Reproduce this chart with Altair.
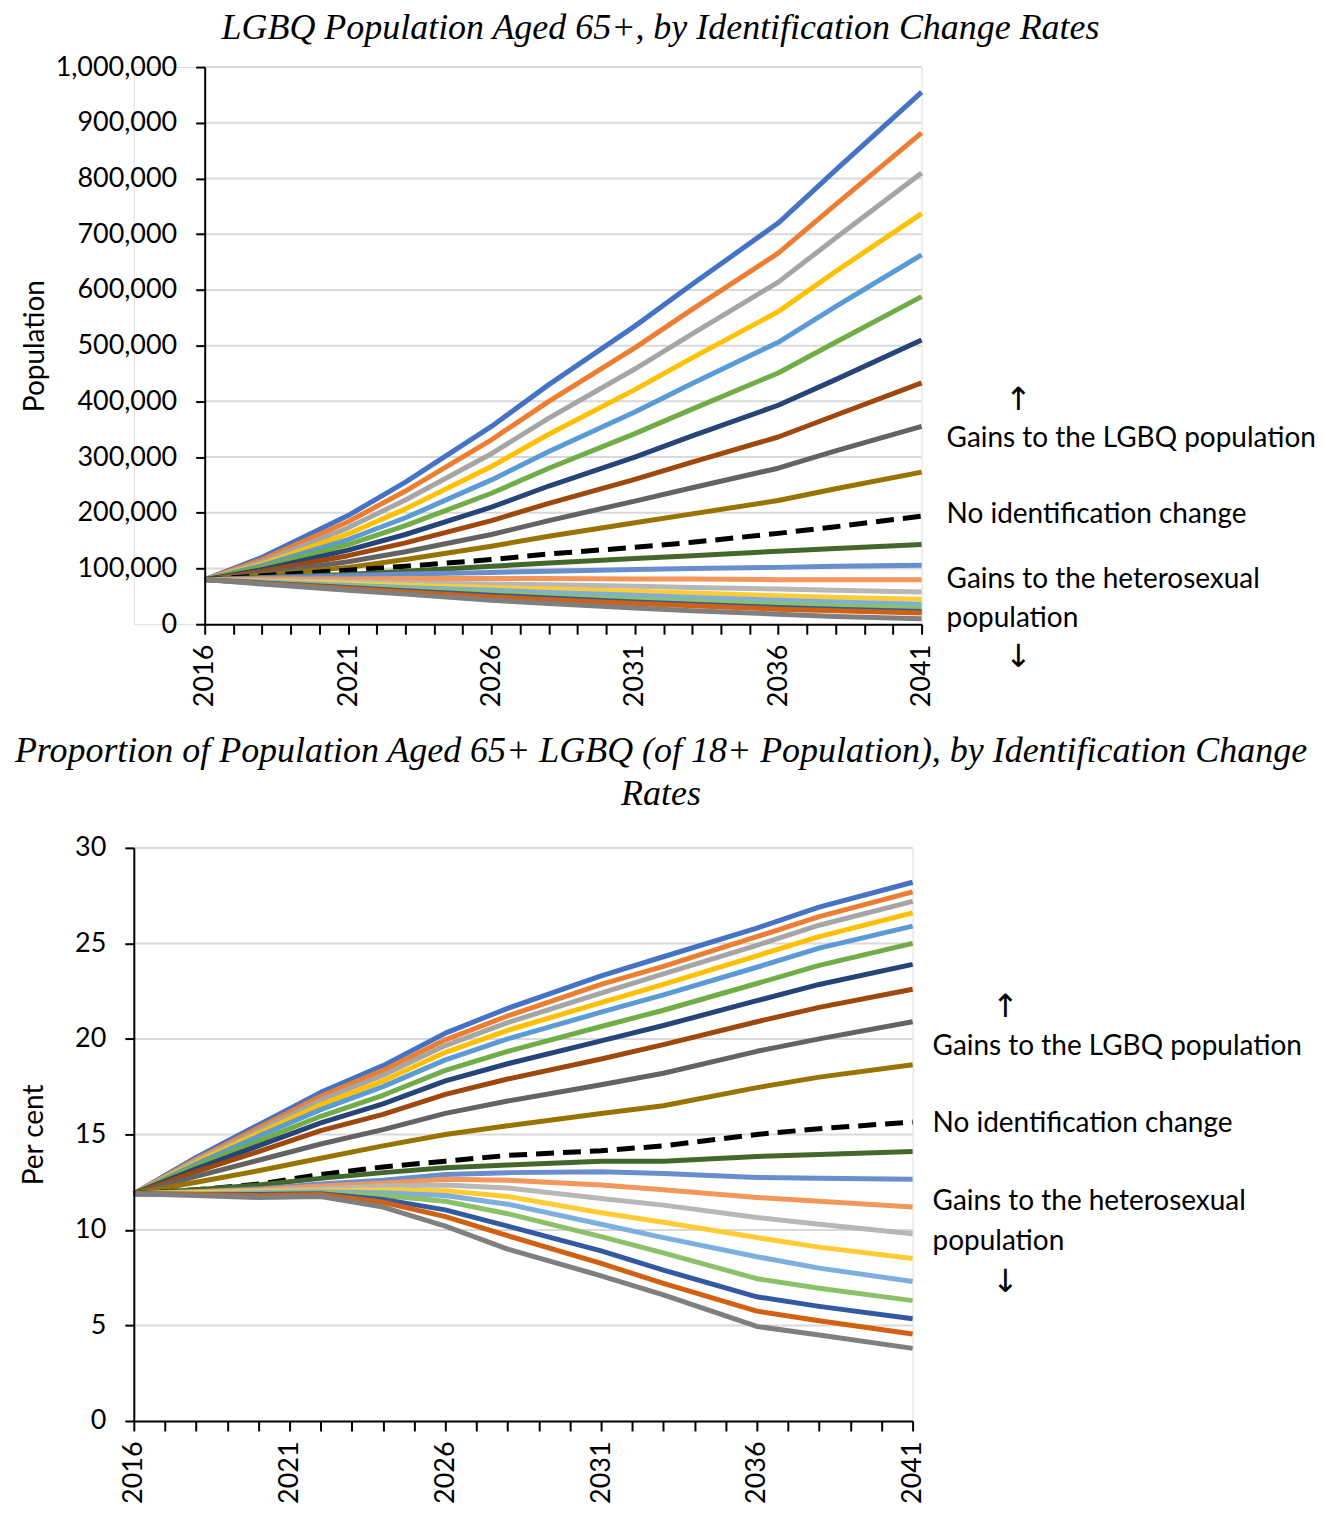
import altair as alt
import pandas as pd

# ---------------- Top panel: LGBQ population aged 65+ (thousands) ----------------
POP_YEARS = [2016, 2018, 2021, 2023, 2026, 2028, 2031, 2033, 2036, 2038, 2041]
POP_L1 = [80, 120, 195, 255, 355, 430, 535, 610, 720, 815, 955]
POP_L2 = [80, 116, 184, 239, 331, 400, 496, 565, 666, 753, 882]
POP_L3 = [80, 112, 173, 223, 306, 370, 458, 521, 614, 693, 810]
POP_L4 = [80, 108, 162, 207, 283, 341, 421, 478, 561, 633, 737]
POP_L5 = [80, 105, 152, 191, 259, 310, 381, 432, 506, 570, 663]
POP_L6 = [80, 102, 143, 177, 235, 280, 342, 386, 451, 506, 588]
POP_L7 = [80, 98, 133, 161, 210, 248, 300, 338, 393, 439, 510]
POP_L8 = [80, 95, 123, 146, 186, 217, 260, 291, 336, 375, 433]
POP_L9 = [80, 91, 112, 130, 161, 186, 221, 245, 280, 311, 355]
POP_L10 = [80, 88, 102, 116, 140, 158, 182, 198, 222, 243, 273]
POP_NC = [80, 87, 97, 104, 116, 126, 138, 147, 163, 175, 194]
POP_H1 = [80, 84, 89, 95, 104, 110, 118, 123, 131, 136, 143]
POP_H2 = [80, 83, 87, 90, 93, 95, 98, 100, 102, 104, 106]
POP_H3 = [80, 81, 81, 82, 82, 82, 81, 81, 80, 80, 80]
POP_H4 = [80, 78, 76, 74, 72, 71, 68, 66, 63, 61, 58]
POP_H5 = [80, 77, 73, 70, 66, 63, 59, 56, 51, 48, 45]
POP_H6 = [80, 76, 70, 66, 61, 57, 52, 48, 43, 40, 36]
POP_H7 = [80, 75, 68, 63, 56, 51, 45, 41, 36, 33, 29]
POP_H8 = [80, 74, 66, 60, 52, 47, 40, 36, 30, 27, 23]
POP_H9 = [80, 73, 64, 58, 49, 44, 37, 33, 27, 24, 20]
POP_H10 = [80, 72, 61, 54, 43, 37, 29, 24, 18, 14, 10]
POP_UNIT = 1000

# ---------------- Bottom panel: per cent LGBQ aged 65+ (of 18+) ----------------
PCT_YEARS = [2016, 2018, 2020, 2022, 2024, 2026, 2028, 2031, 2033, 2036, 2038, 2041]
PCT_L1 = [11.9, 13.8, 15.5, 17.2, 18.6, 20.3, 21.6, 23.3, 24.3, 25.8, 26.9, 28.2]
PCT_L2 = [11.9, 13.7, 15.35, 17.0, 18.35, 19.95, 21.2, 22.85, 23.8, 25.35, 26.4, 27.7]
PCT_L3 = [11.9, 13.65, 15.2, 16.8, 18.1, 19.65, 20.85, 22.4, 23.4, 24.9, 25.95, 27.2]
PCT_L4 = [11.9, 13.55, 15.05, 16.55, 17.8, 19.3, 20.45, 21.9, 22.85, 24.35, 25.35, 26.6]
PCT_L5 = [11.9, 13.45, 14.9, 16.3, 17.5, 18.9, 20.0, 21.4, 22.3, 23.75, 24.75, 25.9]
PCT_L6 = [11.9, 13.35, 14.65, 15.95, 17.05, 18.35, 19.35, 20.65, 21.5, 22.9, 23.85, 25.0]
PCT_L7 = [11.9, 13.2, 14.4, 15.6, 16.6, 17.8, 18.7, 19.9, 20.7, 22.0, 22.85, 23.9]
PCT_L8 = [11.9, 13.05, 14.1, 15.2, 16.05, 17.1, 17.9, 18.95, 19.7, 20.9, 21.65, 22.6]
PCT_L9 = [11.9, 12.8, 13.65, 14.5, 15.25, 16.1, 16.75, 17.6, 18.2, 19.35, 20.0, 20.9]
PCT_L10 = [11.9, 12.5, 13.1, 13.75, 14.4, 15.0, 15.45, 16.1, 16.5, 17.45, 18.0, 18.65]
PCT_NC = [11.9, 12.1, 12.4, 12.9, 13.3, 13.6, 13.9, 14.15, 14.4, 15.0, 15.3, 15.65]
PCT_H1 = [11.9, 12.1, 12.35, 12.7, 13.0, 13.25, 13.4, 13.6, 13.6, 13.85, 13.95, 14.1]
PCT_H2 = [11.9, 12.0, 12.15, 12.4, 12.6, 12.9, 13.0, 13.05, 12.95, 12.75, 12.7, 12.65]
PCT_H3 = [11.9, 12.0, 12.1, 12.3, 12.45, 12.65, 12.6, 12.35, 12.1, 11.7, 11.5, 11.2]
PCT_H4 = [11.9, 11.95, 12.05, 12.15, 12.3, 12.35, 12.2, 11.65, 11.3, 10.65, 10.3, 9.8]
PCT_H5 = [11.9, 11.95, 12.0, 12.05, 12.1, 12.05, 11.75, 10.9, 10.4, 9.6, 9.1, 8.5]
PCT_H6 = [11.9, 11.9, 11.95, 12.0, 11.95, 11.8, 11.35, 10.3, 9.6, 8.6, 8.0, 7.3]
PCT_H7 = [11.9, 11.9, 11.9, 11.95, 11.8, 11.5, 10.85, 9.65, 8.8, 7.45, 6.95, 6.3]
PCT_H8 = [11.9, 11.85, 11.85, 11.9, 11.6, 11.05, 10.2, 8.9, 7.9, 6.5, 6.0, 5.35]
PCT_H9 = [11.9, 11.85, 11.8, 11.85, 11.45, 10.7, 9.7, 8.25, 7.2, 5.75, 5.25, 4.55]
PCT_H10 = [11.9, 11.8, 11.7, 11.75, 11.2, 10.2, 9.0, 7.6, 6.6, 4.95, 4.5, 3.8]

# ---------------- series names / colours ----------------
GAIN_NAMES = ["LGBQ gain %d" % i for i in range(1, 11)]
HET_NAMES = ["Heterosexual gain %d" % i for i in range(1, 11)]
NC_NAME = "No identification change"
GAIN_COLORS = ["#4472C4", "#ED7D31", "#A5A5A5", "#FFC000", "#5B9BD5",
               "#70AD47", "#264478", "#9E480E", "#636363", "#997300"]
HET_COLORS = ["#43682B", "#698ED0", "#F1975A", "#B7B7B7", "#FFCD33",
              "#7CAFDD", "#8CC168", "#335AA1", "#D26012", "#7F7F7F"]

# ---------------- axes ----------------
YEAR_FIRST, YEAR_LAST = 2016, 2041
YEAR_TICKS = list(range(2016, 2042))
YEAR_LABELS = [2016, 2021, 2026, 2031, 2036, 2041]
POP_TICKS = [0, 100000, 200000, 300000, 400000, 500000, 600000, 700000, 800000, 900000, 1000000]
PCT_TICKS = [0, 5, 10, 15, 20, 25, 30]

# ---------------- annotations ----------------
NOTE_TEXT = ["Gains to the LGBQ population", "No identification change",
             "Gains to the heterosexual", "population"]
ARROW_TEXT = ["\u2191", "\u2193"]
POP_NOTE_AT = [333000, 196000, 80000, 10000]
POP_ARROW_AT = [403000, -58000]
PCT_NOTE_AT = [19.6, 15.53, 11.46, 9.37]
PCT_ARROW_AT = [21.65, 7.28]

TITLE_TOP = "LGBQ Population Aged 65+, by Identification Change Rates"
TITLE_BOTTOM = ["Proportion of Population Aged 65+ LGBQ (of 18+ Population), by Identification Change",
                "Rates"]

SANS = "Lato"
SERIF = "Liberation Serif"


def long_table(years, series, scale=1):
    rows = []
    for name, vals in series:
        for yr, v in zip(years, vals):
            rows.append({"series": name, "year": yr, "value": v * scale})
    return pd.DataFrame(rows)


pop_gain = long_table(POP_YEARS, list(zip(GAIN_NAMES, [POP_L1, POP_L2, POP_L3, POP_L4, POP_L5,
                                                       POP_L6, POP_L7, POP_L8, POP_L9, POP_L10])), POP_UNIT)
pop_nc = long_table(POP_YEARS, [(NC_NAME, POP_NC)], POP_UNIT)
pop_het = long_table(POP_YEARS, list(zip(HET_NAMES, [POP_H1, POP_H2, POP_H3, POP_H4, POP_H5,
                                                     POP_H6, POP_H7, POP_H8, POP_H9, POP_H10])), POP_UNIT)
pct_gain = long_table(PCT_YEARS, list(zip(GAIN_NAMES, [PCT_L1, PCT_L2, PCT_L3, PCT_L4, PCT_L5,
                                                       PCT_L6, PCT_L7, PCT_L8, PCT_L9, PCT_L10])))
pct_nc = long_table(PCT_YEARS, [(NC_NAME, PCT_NC)])
pct_het = long_table(PCT_YEARS, list(zip(HET_NAMES, [PCT_H1, PCT_H2, PCT_H3, PCT_H4, PCT_H5,
                                                     PCT_H6, PCT_H7, PCT_H8, PCT_H9, PCT_H10])))

color_scale = alt.Scale(domain=GAIN_NAMES + HET_NAMES, range=GAIN_COLORS + HET_COLORS)
label_expr = "indexof(%s, datum.value) >= 0 ? datum.label : ''" % str(YEAR_LABELS)


def panel(gain_df, nc_df, het_df, y_ticks, y_max, y_fmt, y_title, note_at, arrow_at,
          width, height, x_range, y_offset, title, title_dx, title_offset, title_pad,
          note_dx, arrow_dx, line_height):
    x_scale = alt.Scale(domain=[YEAR_FIRST, YEAR_LAST], range=x_range, nice=False, zero=False)
    y_scale = alt.Scale(domain=[0, y_max], nice=False, zero=False)
    x_axis = alt.Axis(values=YEAR_TICKS, format="d", labelExpr=label_expr,
                      labelAngle=270, labelFont=SANS, labelFontSize=27, labelColor="black",
                      labelPadding=10, labelFlush=False, labelOverlap=False, tickSize=10,
                      tickWidth=2, tickColor="black", domainColor="black", domainWidth=2,
                      grid=False, title=None, zindex=1)
    y_axis = alt.Axis(values=y_ticks, format=y_fmt, labelFont=SANS, labelFontSize=27,
                      labelColor="black", labelPadding=19, tickSize=9, tickWidth=2,
                      tickColor="black", domainColor="black", domainWidth=2, grid=False,
                      title=y_title, titleFont=SANS, titleFontSize=28, titleFontWeight="normal",
                      titleColor="black", titlePadding=title_pad, offset=y_offset, zindex=1)
    x_enc = alt.X("year:Q", scale=x_scale, axis=x_axis)
    y_enc = alt.Y("value:Q", scale=y_scale, axis=y_axis)

    grid_df = pd.DataFrame({"value": [v for v in y_ticks if v > 0]})
    grid_df["year"] = YEAR_FIRST
    grid_df["year_end"] = YEAR_LAST
    grid = alt.Chart(grid_df).mark_rule(color="#D9D9D9", strokeWidth=2).encode(
        y=y_enc, x=x_enc, x2=alt.X2("year_end:Q"))
    gain = alt.Chart(gain_df).mark_line(strokeWidth=5, strokeJoin="round").encode(
        x=x_enc, y=y_enc, color=alt.Color("series:N", scale=color_scale, legend=None))
    het = alt.Chart(het_df).mark_line(strokeWidth=5, strokeJoin="round").encode(
        x=x_enc, y=y_enc, color=alt.Color("series:N", scale=color_scale, legend=None))
    nc = alt.Chart(nc_df).mark_line(color="black", strokeWidth=5, strokeDash=[18, 9]).encode(
        x=x_enc, y=y_enc)

    notes_df = pd.DataFrame({"label": NOTE_TEXT, "value": note_at})
    notes_df["year"] = YEAR_LAST
    arrows_df = pd.DataFrame({"label": ARROW_TEXT, "value": arrow_at})
    arrows_df["year"] = YEAR_LAST
    notes = alt.Chart(notes_df).mark_text(align="left", baseline="middle", dx=note_dx,
                                          font=SANS, fontSize=28, color="black").encode(
        x=x_enc, y=y_enc, text="label:N")
    arrows = alt.Chart(arrows_df).mark_text(align="center", baseline="middle", dx=arrow_dx,
                                            font="DejaVu Sans", fontSize=32, color="black").encode(
        x=x_enc, y=y_enc, text="label:N")

    tparams = dict(text=title, font=SERIF, fontStyle="italic", fontWeight="normal",
                   fontSize=36, color="black", anchor="middle", frame="group",
                   dx=title_dx, offset=title_offset, lineHeight=line_height)
    return alt.layer(grid, gain, nc, het, notes, arrows).properties(
        width=width, height=height, title=alt.TitleParams(**tparams))


top = panel(pop_gain, pop_nc, pop_het, POP_TICKS, 1000000, ",d", "Population",
            POP_NOTE_AT, POP_ARROW_AT, width=789, height=558, x_range=[71, 789],
            y_offset=-71, title=TITLE_TOP, title_dx=133, title_offset=6, title_pad=6,
            note_dx=25, arrow_dx=97, line_height=43)
bottom = panel(pct_gain, pct_nc, pct_het, PCT_TICKS, 30, "d", "Per cent",
               PCT_NOTE_AT, PCT_ARROW_AT, width=780, height=574, x_range=[0, 780],
               y_offset=0, title=TITLE_BOTTOM, title_dx=138, title_offset=21, title_pad=26,
               note_dx=20, arrow_dx=93, line_height=43)

chart = alt.vconcat(top, bottom, spacing=24).properties(
    padding={"left": 5, "top": 0, "right": 0, "bottom": 0}
).configure_view(stroke=None).configure(background="white")

chart.save("out.html", embed_options={"renderer": "svg", "actions": False})
